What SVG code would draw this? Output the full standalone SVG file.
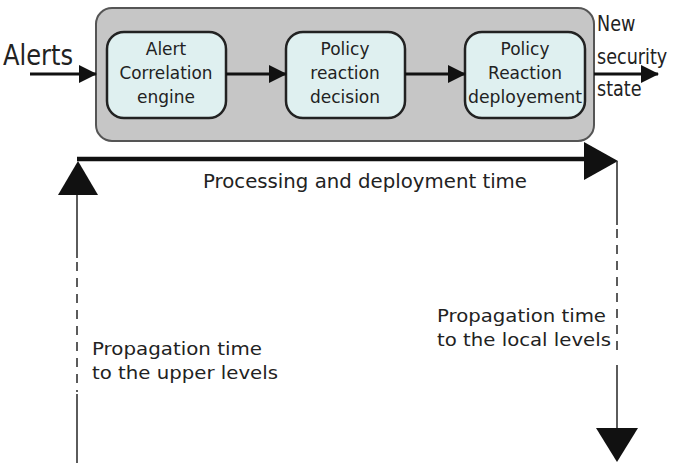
<svg xmlns="http://www.w3.org/2000/svg" width="675" height="470" viewBox="0 0 675 470">
<style>
.t{font-family:"DejaVu Sans","Liberation Sans",sans-serif;fill:#222}
.nd{fill:#dff0f0;stroke:#222;stroke-width:2.5}
.ln{stroke:#111;stroke-width:3;fill:none}
.thin{stroke:#333;stroke-width:1.6;fill:none}
.dash{stroke:#333;stroke-width:1.6;fill:none;stroke-dasharray:9 7}
</style>
<defs>
<marker id="ah" markerWidth="18" markerHeight="18" refX="17" refY="9" orient="auto" markerUnits="userSpaceOnUse" viewBox="0 0 18 18">
<path d="M0,0 L18,9 L0,18 z" fill="#111"/>
</marker>
</defs>
<g id="container">
<rect x="96" y="8" width="498" height="133" rx="16" fill="#c6c6c6" stroke="#555" stroke-width="2"/>
</g>
<g id="alerts">
<text class="t" x="3" y="65" font-size="29" textLength="70" lengthAdjust="spacingAndGlyphs">Alerts</text>
</g>
<g id="node1">
<rect class="nd" x="107" y="32" width="119" height="86" rx="17"/>
<text class="t" x="166" y="55" font-size="17" text-anchor="middle">Alert</text>
<text class="t" x="166" y="79" font-size="17" text-anchor="middle" textLength="93" lengthAdjust="spacingAndGlyphs">Correlation</text>
<text class="t" x="166" y="103" font-size="17" text-anchor="middle">engine</text>
</g>
<g id="node2">
<rect class="nd" x="286" y="32" width="119" height="86" rx="17"/>
<text class="t" x="345" y="55" font-size="17" text-anchor="middle">Policy</text>
<text class="t" x="345" y="79" font-size="17" text-anchor="middle">reaction</text>
<text class="t" x="345" y="103" font-size="17" text-anchor="middle">decision</text>
</g>
<g id="node3">
<rect class="nd" x="465" y="32" width="120" height="86" rx="17"/>
<text class="t" x="525" y="55" font-size="17" text-anchor="middle">Policy</text>
<text class="t" x="525" y="79" font-size="17" text-anchor="middle">Reaction</text>
<text class="t" x="525" y="103" font-size="17" text-anchor="middle" textLength="114" lengthAdjust="spacingAndGlyphs">deployement</text>
</g>
<g id="newstate" transform="translate(597,0) scale(0.8,1)">
<text class="t" x="0" y="31" font-size="22">New</text>
<text class="t" x="0" y="64" font-size="22">security</text>
<text class="t" x="0" y="96" font-size="22">state</text>
</g>
<g id="connectors">
<line class="ln" x1="30" y1="74" x2="96" y2="74" marker-end="url(#ah)"/>
<line class="ln" x1="226" y1="74" x2="286" y2="74" marker-end="url(#ah)"/>
<line class="ln" x1="405" y1="74" x2="465" y2="74" marker-end="url(#ah)"/>
<line class="ln" x1="594" y1="74" x2="658" y2="74" marker-end="url(#ah)"/>
<line x1="77" y1="159" x2="590" y2="159" stroke="#111" stroke-width="4.5"/>
<polygon points="584,142 618,161 584,180" fill="#111"/>
<polygon points="78,161 58,195 98,195" fill="#111"/>
<line class="thin" x1="77" y1="195" x2="77" y2="258"/>
<line class="dash" x1="77" y1="262" x2="77" y2="392"/>
<line class="thin" x1="77" y1="394" x2="77" y2="463"/>
<line class="thin" x1="617" y1="161" x2="617" y2="225"/>
<line class="dash" x1="617" y1="229" x2="617" y2="355"/>
<line class="thin" x1="617" y1="365" x2="617" y2="430"/>
<polygon points="596,428 638,428 617,462" fill="#111"/>
</g>
<g id="labels">
<text class="t" x="203" y="188" font-size="19" textLength="324" lengthAdjust="spacingAndGlyphs">Processing and deployment time</text>
<text class="t" x="437" y="322" font-size="18" textLength="169" lengthAdjust="spacingAndGlyphs">Propagation time</text>
<text class="t" x="437" y="346" font-size="18" textLength="174" lengthAdjust="spacingAndGlyphs">to the local levels</text>
<text class="t" x="92" y="355" font-size="18" textLength="170" lengthAdjust="spacingAndGlyphs">Propagation time</text>
<text class="t" x="92" y="379" font-size="18" textLength="186" lengthAdjust="spacingAndGlyphs">to the upper levels</text>
</g>
</svg>
